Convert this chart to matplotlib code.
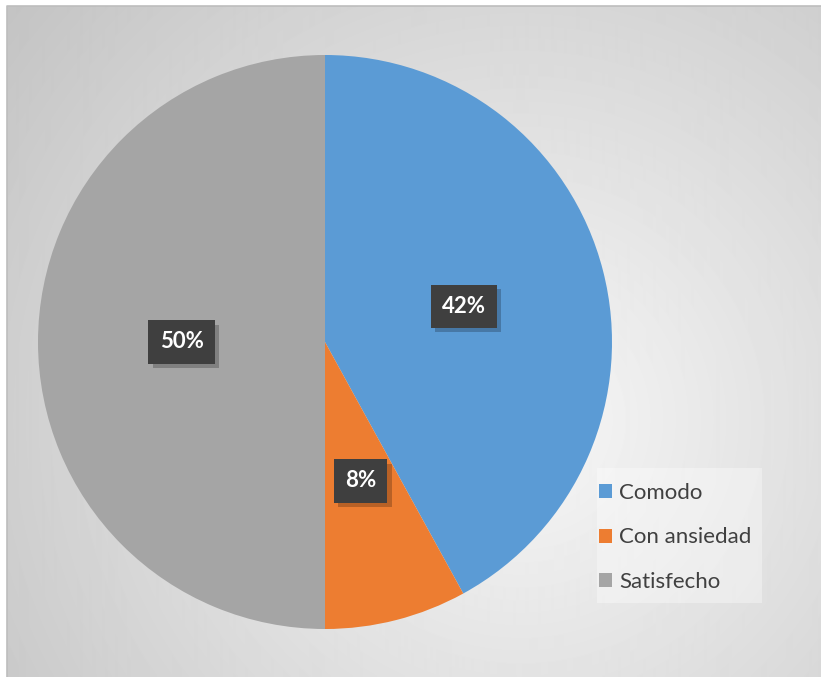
import numpy as np
import matplotlib.pyplot as plt
from matplotlib import patheffects
from matplotlib.patches import Rectangle

# --------------------------------------------------
# Data
# --------------------------------------------------
categories = ["Comodo", "Con ansiedad", "Satisfecho"]
shares = [42, 8, 50]
colors = ["#5B9BD5", "#ED7D31", "#A5A5A5"]

W, H = 821, 677
fig = plt.figure(figsize=(W / 100, H / 100), dpi=100)
fig.patch.set_facecolor("white")

# --------------------------------------------------
# Chart area with radial gradient background
# --------------------------------------------------
x0, y0 = 7, 6  # chart area top-left (pixels)
bg_ax = fig.add_axes([x0 / W, 0, 1 - x0 / W, 1 - y0 / H])
bg_ax.set_axis_off()
yy, xx = np.mgrid[y0:H, x0:W]
dist = np.hypot(xx - 520, yy - 420)
shade = np.clip(0.97 - 0.00031 * dist, 0.74, 0.97)
bg_ax.imshow(shade, cmap="gray", vmin=0, vmax=1, aspect="auto",
             extent=[0, 1, 0, 1], interpolation="bilinear")
bg_ax.plot([0, 0, 1], [0, 1, 1], color="#bdbdbd", lw=1.2,
           transform=bg_ax.transAxes, clip_on=False)

# light panel behind the legend
fig.patches.append(Rectangle((597 / W, 1 - 603 / H), 165 / W, 135 / H,
                             transform=fig.transFigure, facecolor="white",
                             alpha=0.35, linewidth=0))

# --------------------------------------------------
# Pie
# --------------------------------------------------
cx, cy, r = 325, 342, 287
ax = fig.add_axes([(cx - r) / W, 1 - (cy + r) / H, 2 * r / W, 2 * r / H])
ax.set_facecolor("none")

wedges, texts, autotexts = ax.pie(
    shares,
    colors=colors,
    startangle=90,
    counterclock=False,
    autopct="%1.0f%%",
    pctdistance=0.5,
    radius=1.0,
    wedgeprops=dict(linewidth=0),
    textprops=dict(color="white", fontsize=16, fontweight="bold",
                   family=["Lato", "DejaVu Sans"]),
)
ax.set_xlim(-1, 1)
ax.set_ylim(-1, 1)
ax.set_aspect("auto")

# dark label boxes with a soft drop shadow
for t in autotexts:
    t.set_bbox(dict(boxstyle="square,pad=0.5", facecolor="#3f3f3f",
                    linewidth=0))
    t.get_bbox_patch().set_path_effects([
        patheffects.SimplePatchShadow(offset=(3, -3), shadow_rgbFace="black",
                                      alpha=0.22),
        patheffects.Normal(),
    ])
    t.set_zorder(4)

# --------------------------------------------------
# Legend
# --------------------------------------------------
leg = fig.legend(
    wedges, categories,
    loc="upper left",
    bbox_to_anchor=(599 / W, 1 - 483 / H),
    frameon=False,
    prop=dict(family=["Lato", "DejaVu Sans"], size=16),
    labelcolor="#404040",
    handlelength=0.6,
    handleheight=0.6,
    handletextpad=0.3,
    labelspacing=1.1,
    borderpad=0,
    borderaxespad=0,
)

fig.savefig("out.png", dpi=100)
